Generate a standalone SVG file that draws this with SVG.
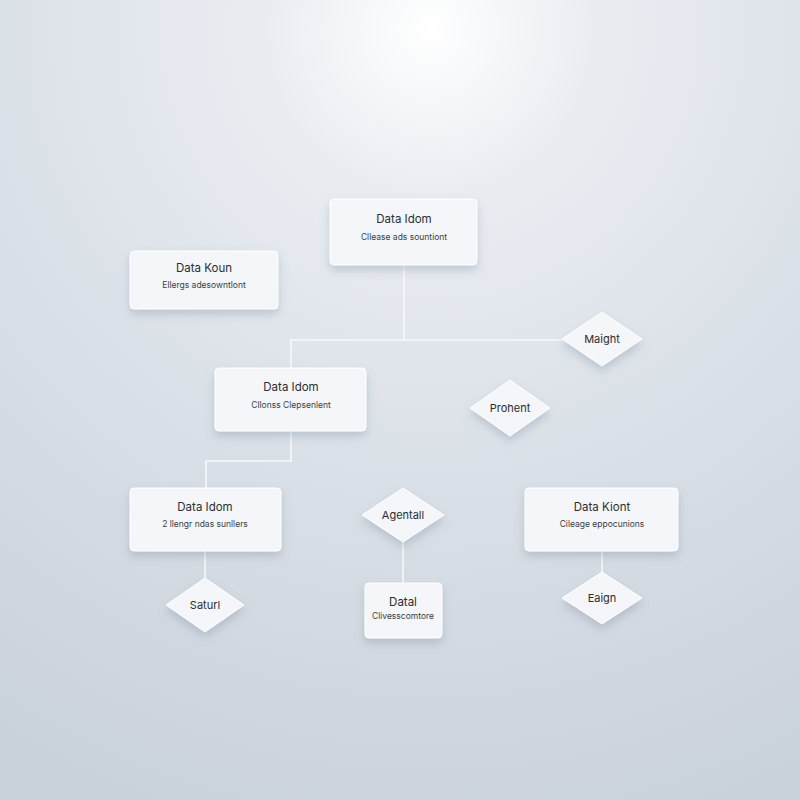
<svg xmlns="http://www.w3.org/2000/svg" width="800" height="800" viewBox="0 0 800 800">
<defs>
<radialGradient id="bg" cx="430" cy="30" r="820" gradientUnits="userSpaceOnUse">
<stop offset="0" stop-color="#ffffff"/>
<stop offset="0.2" stop-color="#e9edf2"/>
<stop offset="0.55" stop-color="#dae0e7"/>
<stop offset="1" stop-color="#c9d1da"/>
</radialGradient>
<filter id="sh" x="-30%" y="-30%" width="160%" height="180%">
<feDropShadow dx="0" dy="5" stdDeviation="5" flood-color="#7d8b9c" flood-opacity="0.35"/>
</filter>
<style>
.box{fill:#f4f6f9;stroke:#ffffff;stroke-width:1;filter:url(#sh)}
.dia{fill:#f4f6f9;stroke:#ffffff;stroke-width:1;filter:url(#sh)}
.t{font-family:Inter,"Noto Sans",sans-serif;font-size:11.5px;fill:#2a2d33;text-anchor:middle}
.s{font-family:Inter,"Noto Sans",sans-serif;font-size:8.5px;fill:#3a3e45;text-anchor:middle}
.d{font-family:Inter,"Noto Sans",sans-serif;font-size:11px;fill:#2a2d33;text-anchor:middle}
.c{fill:none;stroke:#f7f9fb;stroke-width:1.6}
</style>
</defs>
<rect width="800" height="800" fill="url(#bg)"/>
<g id="connectors">
<polyline class="c" points="404,265 404,340"/>
<polyline class="c" points="562,340 291,340 291,368"/>
<polyline class="c" points="291,431 291,461 206,461 206,488"/>
<polyline class="c" points="205,551 205,578"/>
<polyline class="c" points="403,542 403,583"/>
<polyline class="c" points="602,551 602,572"/>
</g>
<g id="nodeA"><rect class="box" x="330" y="199" width="147" height="66" rx="4"/><text class="t" x="404" y="223">Data Idom</text><text class="s" x="404" y="240">Cllease ads sountiont</text></g>
<g id="nodeB"><rect class="box" x="130" y="251" width="148" height="58" rx="4"/><text class="t" x="204" y="272">Data Koun</text><text class="s" x="204" y="288">Ellergs adesowntlont</text></g>
<g id="nodeC"><rect class="box" x="215" y="368" width="151" height="63" rx="4"/><text class="t" x="291" y="391">Data Idom</text><text class="s" x="291" y="408">Cllonss Clepsenlent</text></g>
<g id="nodeD"><rect class="box" x="130" y="488" width="151" height="63" rx="4"/><text class="t" x="205" y="511">Data Idom</text><text class="s" x="205" y="527">2 llengr ndas sunllers</text></g>
<g id="nodeE"><rect class="box" x="525" y="488" width="153" height="63" rx="4"/><text class="t" x="602" y="511">Data Kiont</text><text class="s" x="602" y="527">Cileage eppocunions</text></g>
<g id="nodeF"><rect class="box" x="365" y="583" width="77" height="55" rx="4"/><text class="t" x="403" y="606">Datal</text><text class="s" x="403" y="619">Clivesscomtore</text></g>
<g id="maight"><polygon class="dia" points="602,312 642,339 602,366 562,339"/><text class="d" x="602" y="343">Maight</text></g>
<g id="prohent"><polygon class="dia" points="510,380 550,408 510,436 470,408"/><text class="d" x="510" y="412">Prohent</text></g>
<g id="agentall"><polygon class="dia" points="403,488 444,515 403,542 362,515"/><text class="d" x="403" y="519">Agentall</text></g>
<g id="saturl"><polygon class="dia" points="205,578 244,605 205,632 166,605"/><text class="d" x="205" y="609">Saturl</text></g>
<g id="eaign"><polygon class="dia" points="602,572 642,598 602,624 562,598"/><text class="d" x="602" y="602">Eaign</text></g>
</svg>
